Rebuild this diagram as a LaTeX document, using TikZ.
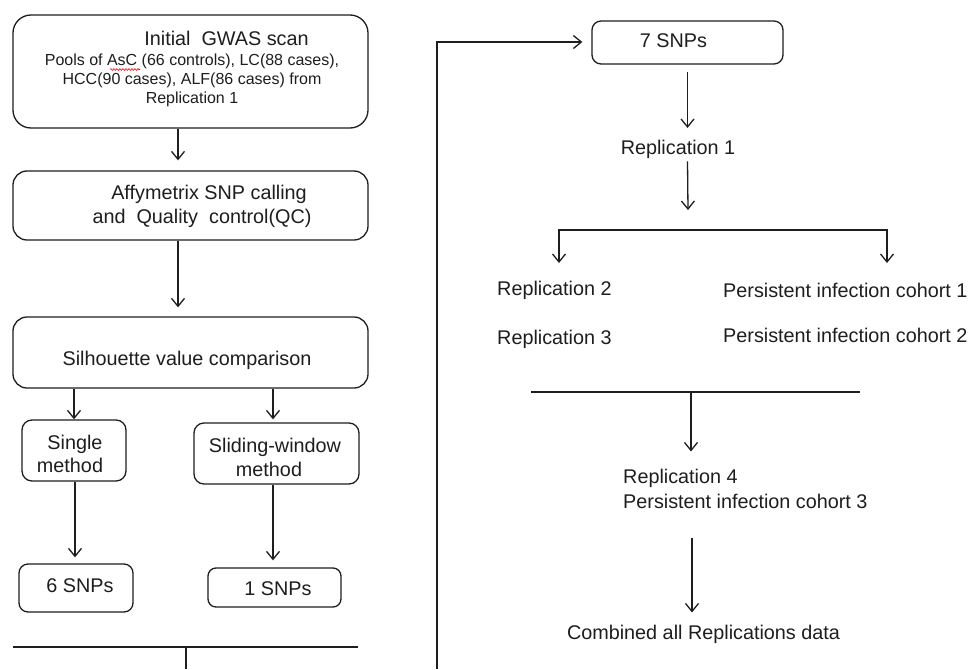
\documentclass[tikz,border=0pt]{standalone}
\usepackage{fontspec}
\setmainfont{Liberation Sans}
\usetikzlibrary{arrows.meta,decorations.pathmorphing}
\definecolor{ink}{HTML}{1E1E1E}
\begin{document}
\begin{tikzpicture}[x=1pt,y=-1pt,
  rbox/.style={draw=ink,line width=1.3pt,rounded corners=#1,inner sep=0pt},
  rbox/.default=10pt,
  arr/.style={draw=ink,line width=1.3pt,-{Straight Barb[length=8pt,width=13pt,line width=1.3pt]}},
  arrbi/.style={draw=ink,line width=1.3pt,{Straight Barb[length=8pt,width=13pt,line width=1.3pt]}-{Straight Barb[length=8pt,width=13pt,line width=1.3pt]}},
  ln/.style={draw=ink,line width=1.3pt},
  txt/.style={anchor=base,inner sep=0pt,text=ink,font=\fontsize{19.8}{24}\selectfont},
  txtw/.style={anchor=base west,inner sep=0pt,text=ink,font=\fontsize{19.8}{24}\selectfont},
  stxt/.style={anchor=base,inner sep=0pt,text=ink,font=\fontsize{16}{18.5}\selectfont}]
\fill[white] (0,0) rectangle (974,669);
\useasboundingbox (0,0) rectangle (974,669);

% left column boxes
\node[rbox=18pt,minimum width=355pt,minimum height=113pt] (b1) at (190.5,71.5) {};
\node[rbox=14pt,minimum width=355pt,minimum height=69pt] (b2) at (190.5,205.5) {};
\node[rbox=14pt,minimum width=355pt,minimum height=71pt] (b3) at (190.5,352.5) {};
\node[rbox=10pt,minimum width=104pt,minimum height=61pt] (bs) at (74,450.5) {};
\node[rbox=10pt,minimum width=165pt,minimum height=61pt] (bw) at (276.5,453.5) {};
\node[rbox=9pt,minimum width=114pt,minimum height=48pt] (b6) at (76,588) {};
\node[rbox=8pt,minimum width=133pt,minimum height=39pt] (b1s) at (274.5,587.5) {};
\node[rbox=9pt,minimum width=191pt,minimum height=43pt] (b7) at (687.5,42.5) {};

% left texts
\node[txt] (t1) at (226.5,46) {Initial\ \ GWAS scan};
\node[stxt] (t1a) at (192,66) {Pools of AsC (66 controls), LC(88 cases),};
\node[stxt] (t1b) at (192,84.5) {HCC(90 cases), ALF(86 cases) from};
\node[stxt] (t1c) at (192,103) {Replication 1};
\draw[red,line width=0.6pt,decorate,decoration={snake,amplitude=0.9pt,segment length=3pt}] (110,69.5) -- (140,69.5);
\node[txt] (t2a) at (209,199) {Affymetrix SNP calling};
\node[txt] (t2b) at (202,223) {and\ \ Quality\ \ control(QC)};
\node[txt] (t3) at (187,365) {Silhouette value comparison};
\node[txt] (tsa) at (75,449) {Single};
\node[txt] (tsb) at (70,472) {method};
\node[txt] (twa) at (275,452) {Sliding-window};
\node[txt] (twb) at (269,476) {method};
\node[txt] (t6) at (80,592) {6 SNPs};
\node[txt] (t1s) at (278,595) {1 SNPs};
\node[txt] (t7) at (673.5,48) {7 SNPs};

% left arrows
\draw[arr] ([xshift=-12.5pt]b1.south) -- ([xshift=-12.5pt,yshift=10pt]b2.north);
\draw[arr] ([xshift=-12.5pt]b2.south) -- ([xshift=-12.5pt,yshift=9pt]b3.north);
\draw[arr] (b3.south -| bs.north) -- (bs.north);
\draw[arr] ([xshift=-3.5pt]b3.south -| bw.north) -- ([xshift=-3.5pt,yshift=3pt]bw.north);
\draw[arr] ([xshift=1pt]bs.south) -- ([xshift=1pt,yshift=6pt]bs.south |- b6.north);
\draw[arr] ([xshift=-3.5pt]bw.south) -- ([xshift=-3.5pt,yshift=7pt]bw.south |- b1s.north);

% bottom left merge line
\coordinate (ml1) at (13,647);
\coordinate (ml2) at (358,647);
\coordinate (ms1) at (186,647);
\coordinate (ms2) at (186,669);
\draw[ln] (ml1) -- (ml2);
\draw[ln] (ms1) -- (ms2);

% loop line to 7 SNPs
\coordinate (lp0) at (437,669);
\draw[arr] (lp0) |- ([xshift=-9pt,yshift=0.5pt]b7.west);

% right column
\node[txt] (r1) at (678,154) {Replication 1};
\draw[arr] ([yshift=-7pt]b7.south) -- ([yshift=11.5pt]b7.south |- r1.north);
\coordinate (j1) at (688,210);
\draw[arr] ([yshift=-3pt]b7.south |- r1.south) -- (j1);

\coordinate (bkl) at (559,263);
\coordinate (bkr) at (887,263);
\coordinate (bkm) at (723,230);
\draw[arrbi] (bkl) -- (bkl |- bkm) -- (bkr |- bkm) -- (bkr);

\node[txtw] (r2) at (497,295) {Replication 2};
\node[txtw] (r3) at (497,344) {Replication 3};
\node[txtw] (p1) at (723,297) {Persistent infection cohort 1};
\node[txtw] (p2) at (723,342) {Persistent infection cohort 2};

\coordinate (hl1) at (531,392);
\coordinate (hl2) at (860,392);
\coordinate (hm) at (691,392);
\draw[ln] (hl1) -- (hl2);
\node[txtw] (r4) at (623,483) {Replication 4};
\node[txtw] (p3) at (623,508) {Persistent infection cohort 3};
\draw[arr] (hm) -- ([yshift=17pt]hm |- r4.north);

\node[txt] (cb) at (703.5,639) {Combined all Replications data};
\coordinate (a5) at (692,538);
\draw[arr] (a5) -- ([yshift=12pt]a5 |- cb.north);
\end{tikzpicture}
\end{document}
